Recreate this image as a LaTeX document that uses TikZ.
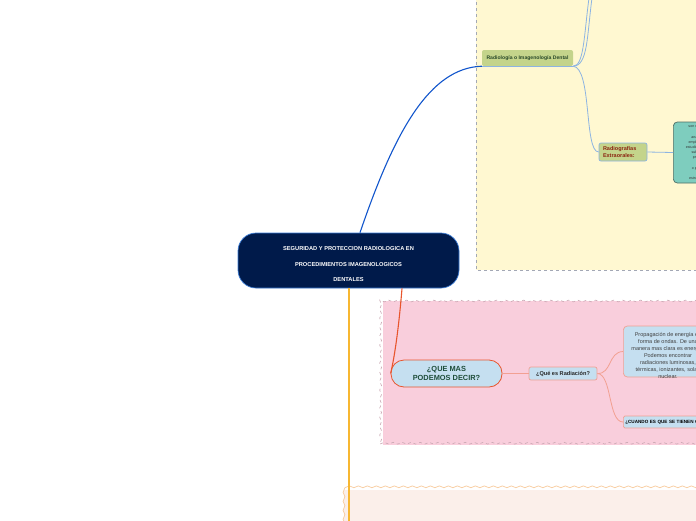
\documentclass[tikz,border=0pt]{standalone}
\usepackage{fontspec}
\setmainfont{Liberation Sans}
\usetikzlibrary{decorations.pathmorphing}
\definecolor{navy}{HTML}{001A4A}
\definecolor{navyline}{HTML}{3A7BD5}
\definecolor{blueconn}{HTML}{1155CC}
\definecolor{lightblue}{HTML}{8DB4E2}
\definecolor{yellowbg}{HTML}{FFF8D1}
\definecolor{yellowbd}{HTML}{A3A8B5}
\definecolor{olive}{HTML}{C4D48B}
\definecolor{darkgreen}{HTML}{2A4A2A}
\definecolor{brownred}{HTML}{8B2410}
\definecolor{teal}{HTML}{7ECDBE}
\definecolor{tealbd}{HTML}{4E6E66}
\definecolor{pinkbg}{HTML}{F9CEDC}
\definecolor{pinkbd}{HTML}{C9A7B2}
\definecolor{peachbg}{HTML}{FBEFEA}
\definecolor{peachbd}{HTML}{F8CB9C}
\definecolor{orangeline}{HTML}{F7B731}
\definecolor{redconn}{HTML}{E8552D}
\definecolor{salmon}{HTML}{F2A092}
\definecolor{paleblue}{HTML}{C5DFF0}
\definecolor{textdark}{HTML}{1E4D3A}
\tikzset{
  region/.style={draw=yellowbd, dashed, line width=0.6pt},
  wavy/.style={decorate, decoration={snake, amplitude=0.9pt, segment length=9pt}},
  topic/.style={rounded corners=2pt, inner sep=0pt, font=\bfseries},
  paletopic/.style={topic, fill=paleblue, draw=salmon, line width=0.7pt},
}
\begin{document}
\begin{tikzpicture}[x=1pt,y=-1pt]
\useasboundingbox (0,0) rectangle (696,520);
\clip (0,0) rectangle (696,520);
\fill[white] (0,0) rectangle (696,520);

% regions
\filldraw[region, fill=yellowbg] (476,-10) -- (476,270) -- (720,270) -- (720,-10);
\fill[pinkbg] (383,301) rectangle (720,445);
\draw[pinkbd, dashed, line width=0.6pt, wavy] (720,301) -- (383,301) -- (383,445) -- (720,445);
\fill[peachbg] (344,490) rectangle (720,540);
\draw[peachbd, line width=0.7pt, wavy] (344,540) -- (344,490) -- (720,490);

% central node
\node[draw=navyline, fill=navy, line width=0.7pt, rounded corners=18pt, minimum width=221pt, minimum height=55pt, inner sep=0pt] (central) at (348.5,260.5) {};
\node[text=white, font=\fontsize{5.7}{15.5}\selectfont\bfseries, align=center, inner sep=0pt] (centraltext) at ([yshift=-4pt]central.center)
  {SEGURIDAD Y PROTECCION RADIOLOGICA EN\\PROCEDIMIENTOS IMAGENOLOGICOS\\DENTALES};

% Radiologia node
\node[topic, fill=olive, minimum width=91pt, minimum height=16pt, text=darkgreen, font=\fontsize{5.1}{6}\selectfont\bfseries] (radio) at (527.5,58)
  {Radiología o Imagenología Dental};
\draw[lightblue, line width=1pt] (radio.south west) -- (radio.south east);
\draw[blueconn, line width=1.1pt] ([xshift=11.5pt]central.north) .. controls (395,130) and (430,68) .. (radio.south west);

\coordinate (top1) at (589,-2);
\coordinate (top2) at (592,-2);
\draw[lightblue, line width=0.8pt] (radio.south east) .. controls (584,66) and (584,35) .. (top1);
\draw[lightblue, line width=0.8pt] (radio.south east) .. controls (588,66) and (587,35) .. (top2);

% Radiografias extraorales
\node[topic, fill=olive, draw=lightblue, line width=0.7pt, minimum width=48pt, minimum height=18pt, text=brownred,
      font=\fontsize{5.5}{6.2}\selectfont\bfseries, align=left, text width=40pt] (extra) at (623,152)
  {Radiografías\\Extraorales:};
\draw[lightblue, line width=0.8pt] (radio.south east) .. controls (592,68) and (584,152) .. (extra.west);

\node[fill=teal, draw=tealbd, line width=0.7pt, rounded corners=4pt, minimum width=60pt, minimum height=61pt, inner sep=0pt,
      font=\fontsize{3.6}{5.2}\selectfont, text=black!80, align=center, anchor=west] (teal) at (673,152.5)
  {son mas amplias y\\se\\analizan zonas\\empleadas para el\\estudio de los huesos\\subtemporales\\proyecciones\\iniciales\\o para evaluar\\sobre las\\estructuras oseas};
\draw[lightblue, line width=0.8pt] (extra.east) -- (teal.west);

% orange vertical line
\coordinate (bottomend) at (349,522);
\draw[orangeline, line width=1.2pt] ([xshift=0.5pt]central.south) -- (bottomend);

% QUE MAS node
\node[fill=paleblue, draw=redconn, line width=0.8pt, rounded corners=13pt, minimum width=111pt, minimum height=27pt, inner sep=0pt,
      text=textdark, font=\fontsize{7.4}{9}\selectfont\bfseries, align=center] (quemas) at (446.5,373.5)
  {¿QUE MAS\\PODEMOS DECIR?};
\draw[redconn, line width=1.1pt] ([xshift=53.5pt]central.south) .. controls (399,325) and (395,355) .. (quemas.west);

\node[paletopic, minimum width=68pt, minimum height=13pt, text=black!85, font=\fontsize{5.6}{6}\selectfont\bfseries] (rad) at (563,373.5)
  {¿Qué es Radiación?};
\draw[salmon, line width=1.3pt] (quemas.east) -- (rad.west);

\node[fill=paleblue, draw=salmon, line width=0.7pt, rounded corners=4pt, minimum width=92pt, minimum height=51pt, inner sep=0pt, anchor=west] (prop) at (623,351.5) {};
\node[text=black!75, font=\fontsize{5.5}{6.9}\selectfont, align=center, inner sep=0pt] (proptext) at (668,355.5)
  {Propagación de energía en\\forma de ondas. De una\\manera mas clara es energía.\\Podemos encontrar\\radiaciones luminosas,\\térmicas, ionizantes, solar,\\nuclear.};

\node[paletopic, rounded corners=1.5pt, minimum width=100pt, minimum height=12pt, anchor=west, text=black,
      font=\fontsize{4.6}{5}\selectfont\bfseries, align=left, text width=96pt] (cuando) at (623,422)
  {¿CUANDO ES QUE SE TIENEN QUE USAR};

\draw[salmon, line width=0.8pt] (rad.east) .. controls (612,374) and (608,352) .. (prop.west);
\draw[salmon, line width=0.8pt] (rad.east) .. controls (612,374) and (608,422) .. (cuando.west);
\end{tikzpicture}
\end{document}
